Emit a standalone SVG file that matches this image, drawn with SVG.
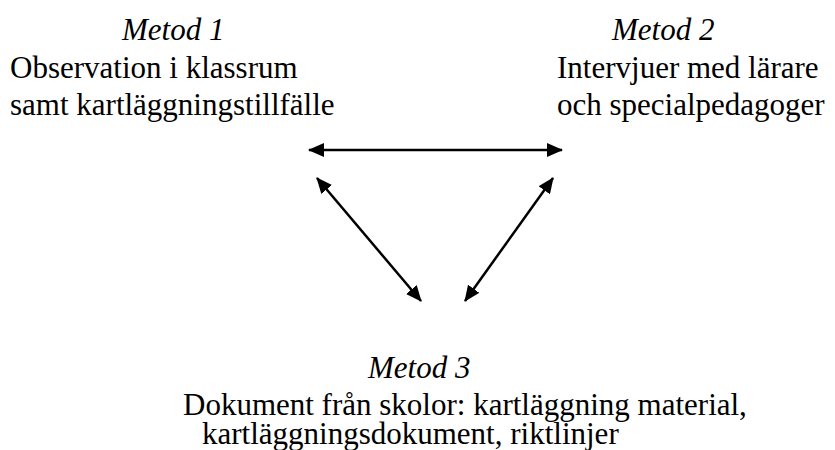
<svg xmlns="http://www.w3.org/2000/svg" width="835" height="450" viewBox="0 0 835 450">
<style>
text{font-family:"Liberation Serif","Times New Roman",serif;font-size:31px;fill:#000}
.t{font-style:italic}
.c{stroke:#000;stroke-width:2.5;fill:none;marker-start:url(#ah);marker-end:url(#ah)}
</style>
<defs>
<marker id="ah" viewBox="0 0 16 14" refX="15" refY="7" markerWidth="16" markerHeight="14" markerUnits="userSpaceOnUse" orient="auto-start-reverse">
<path d="M0,0 L16,7 L0,14 Z" fill="#000"/>
</marker>
</defs>
<rect width="835" height="450" fill="#fff"/>
<g id="metod1">
<text class="t" x="122" y="40">Metod 1</text>
<text x="10" y="78">Observation i klassrum</text>
<text x="10" y="115">samt kartläggningstillfälle</text>
</g>
<g id="metod2">
<text class="t" x="612" y="40">Metod 2</text>
<text x="557" y="78">Intervjuer med lärare</text>
<text x="557" y="115">och specialpedagoger</text>
</g>
<g id="metod3">
<text class="t" x="368" y="378">Metod 3</text>
<text x="183" y="415">Dokument från skolor: kartläggning material,</text>
<text x="202" y="444">kartläggningsdokument, riktlinjer</text>
</g>
<g id="connectors">
<line class="c" x1="309" y1="150" x2="562" y2="150"/>
<line class="c" x1="317" y1="178" x2="421" y2="301"/>
<line class="c" x1="553" y1="178" x2="465" y2="301"/>
</g>
</svg>
